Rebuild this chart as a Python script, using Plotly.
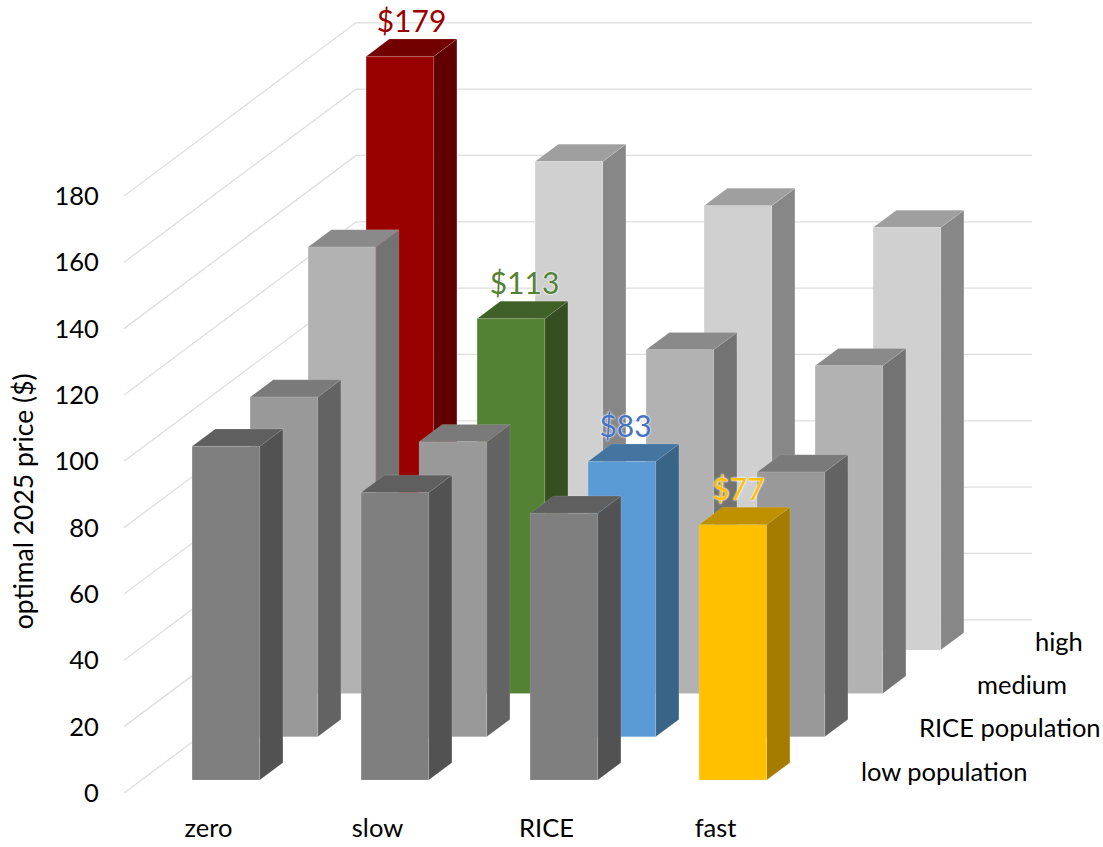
import plotly.graph_objects as go

categories = ["zero", "slow", "RICE", "fast"]
rows = ["low population", "RICE population", "medium", "high"]
low_population = [100.6, 86.7, 80.4, 77]
rice_population = [102.4, 88.9, 83, 79.8]
medium = [134.6, 113, 103.6, 98.8]
high = [179, 147.3, 134, 127.4]
values = [low_population, rice_population, medium, high]
y_ticks = list(range(0, 181, 20))

# (front, side, top) colours per row and for the highlighted bars
row_colors = [("#7F7F7F", "#525252", "#5F5F5F"), ("#999999", "#636363", "#7A7A7A"),
              ("#B2B2B2", "#737373", "#8A8A8A"), ("#D0D0D0", "#878787", "#9F9F9F")]
# front, side, top, label colour, label x nudge (px)
highlights = {(3, 0): ("#990000", "#600000", "#730000", "#990000", -1),
              (2, 1): ("#548235", "#364F21", "#3F6127", "#548235", 1),
              (1, 2): ("#5B9BD5", "#3A6487", "#4474A0", "#4472C4", -9),
              (0, 3): ("#FFC000", "#A67C00", "#BF9000", "#FFC000", -7)}

# Oblique projection: one depth row moves right and up by these axis units
PX_PER_CAT = 169.0
PX_PER_VAL = 597 / 180
DX = 58.0 / PX_PER_CAT
DY = 43.3 / PX_PER_VAL
GAP, WIDTH, DEPTH = 0.3, 0.4, 0.4
N_CAT, N_ROW = len(categories), len(rows)
FONT = "Lato, Carlito, Calibri, sans-serif"
FS = 25.5


def proj(x, v, d):
    return x + d * DX, v + d * DY


def poly(points, fill, edge):
    xs, ys = zip(*[proj(*p) for p in points])
    return go.Scatter(x=list(xs) + [xs[0]], y=list(ys) + [ys[0]], mode="lines", fill="toself",
                      fillcolor=fill, line=dict(color=edge, width=1), hoverinfo="skip", showlegend=False)


fig = go.Figure()

# walls' gridlines
for v in y_ticks:
    p0, p1, p2 = proj(0, v, 0), proj(0, v, N_ROW), proj(N_CAT, v, N_ROW)
    fig.add_trace(go.Scatter(x=[p0[0], p1[0], p2[0]], y=[p0[1], p1[1], p2[1]], mode="lines",
                             line=dict(color="#DEDEDE", width=1.3), hoverinfo="skip", showlegend=False))

# bars, back row first
for r in range(N_ROW - 1, -1, -1):
    for c in range(N_CAT):
        v = values[r][c]
        style = highlights.get((r, c))
        front, side, top = style[:3] if style else row_colors[r]
        edge = "rgba(255,255,255,0.12)"
        x0, x1 = c + 0.5 - WIDTH / 2, c + 0.5 + WIDTH / 2
        d0, d1 = r + GAP, r + GAP + DEPTH
        fig.add_trace(poly([(x1, 0, d0), (x1, 0, d1), (x1, v, d1), (x1, v, d0)], side, edge))
        fig.add_trace(poly([(x0, v, d0), (x1, v, d0), (x1, v, d1), (x0, v, d1)], top, edge))
        fig.add_trace(poly([(x0, 0, d0), (x1, 0, d0), (x1, v, d0), (x0, v, d0)], front, edge))

# value labels
for (r, c), style in highlights.items():
    v = values[r][c]
    lx, _ = proj(c + 0.5 + (style[4] + 1) / PX_PER_CAT, v, r + GAP + DEPTH / 2)
    ly = v + (r + GAP + DEPTH) * DY - 0.1
    fig.add_trace(go.Scatter(x=[lx], y=[ly], mode="text", text=[f"${v:.0f}"], textposition="top center",
                             textfont=dict(family=FONT, size=30, color=style[3],
                                           shadow="0 0 2px #fff, 0 0 2px #fff"),
                             hoverinfo="skip", showlegend=False, cliponaxis=False))

# depth-axis labels
for r, name in enumerate(rows):
    lx, ly = proj(N_CAT + 0.35, 0, r)
    fig.add_annotation(x=lx, y=ly + 6.7, text=name, showarrow=False, xanchor="left", yanchor="middle",
                       font=dict(family=FONT, size=FS, color="#000000"))

fig.add_annotation(xref="paper", yref="y", x=-0.103, y=88, xanchor="center", yanchor="middle",
                   text="optimal 2025 price ($)", textangle=-90, showarrow=False,
                   font=dict(family=FONT, size=26.5, color="#000000"))

fig.update_layout(
    width=1103, height=847, autosize=False, paper_bgcolor="white", plot_bgcolor="white",
    margin=dict(l=124, r=0, t=0, b=54), showlegend=False,
    font=dict(family=FONT, size=FS, color="#000000"),
    xaxis=dict(range=[0, (1103 - 124) / PX_PER_CAT], tickvals=[i + 0.5 for i in range(N_CAT)], ticktext=categories,
               automargin=False, showgrid=False, zeroline=False, showline=False, ticks="outside", ticklen=12,
               tickcolor="rgba(0,0,0,0)"),
    yaxis=dict(range=[0, 793 / PX_PER_VAL], tickvals=y_ticks, automargin=False, showgrid=False, zeroline=False,
               showline=False, ticks="outside", ticklen=19, tickcolor="rgba(0,0,0,0)"),
)
fig.write_html("out.html", config=dict(displayModeBar=False),
               post_script="document.body.style.margin='0';document.body.style.overflow='hidden';")
